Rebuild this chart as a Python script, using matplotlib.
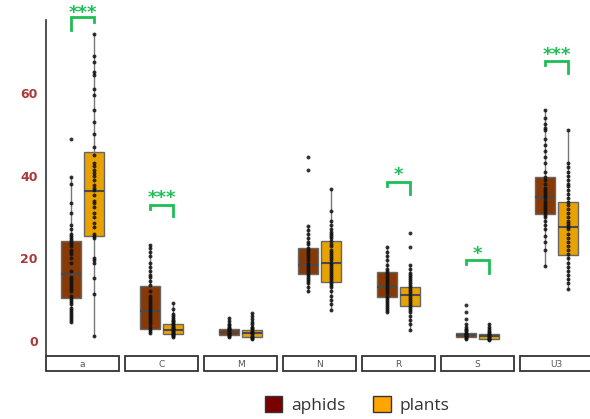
import matplotlib
matplotlib.use("Agg")
import matplotlib.pyplot as plt
from matplotlib.patches import Patch, Rectangle

# facets
facets = ['a', 'C', 'M', 'N', 'R', 'S', 'U3']

# box stats per facet (q1, median, q3, whisker low, whisker high)
aph_q1 = [10.4, 2.9, 1.45, 16.2, 10.6, 0.9, 30.8]
aph_med = [16.2, 7.3, 2.2, 18.5, 13.1, 1.5, 34.9]
aph_q3 = [24.3, 13.4, 2.9, 22.4, 16.6, 2.0, 39.7]
aph_lo = [4.6, 2.0, 0.9, 11.9, 6.9, 0.6, 18.2]
aph_hi = [39.7, 23.2, 5.5, 27.8, 22.8, 4.1, 55.9]

pla_q1 = [25.4, 1.6, 0.9, 14.4, 8.5, 0.6, 20.7]
pla_med = [36.3, 2.7, 1.85, 18.9, 11.1, 1.1, 27.6]
pla_q3 = [45.8, 4.0, 2.66, 24.3, 13.0, 1.6, 33.7]
pla_lo = [1.2, 1.0, 0.4, 7.5, 2.7, 0.3, 12.5]
pla_hi = [74.2, 9.3, 6.7, 36.8, 18.4, 4.0, 51.1]

# individual points
aph_pts = [
    [49, 39.7, 38, 33.5, 31, 28, 27, 26, 25.5, 25, 24.5, 24, 23.5, 23, 22, 21.5, 21, 20, 19, 17,
     15.5, 15, 14.5, 14, 13.5, 13, 12.5, 12, 11, 10.5, 10, 9.5, 9, 8, 7.5, 7, 6.5, 6, 5.5, 5, 4.6],
    [23.2, 22.5, 21.5, 20.5, 19, 18, 17, 16, 15.5, 14.5, 13.5, 12, 11, 10.5, 10, 9.5, 9, 8.5, 8,
     7.5, 7, 6.5, 6, 5.5, 5, 4.5, 4, 3.5, 3, 2.5, 2],
    [5.5, 4.8, 4.2, 3.8, 3.5, 3.2, 3, 2.8, 2.6, 2.4, 2.2, 2, 1.8, 1.6, 1.4, 1.2, 1.0],
    [44.5, 41.4, 27.8, 26.8, 26, 25, 24, 23.5, 22.5, 22, 21.5, 21, 20.5, 20, 19.5, 19, 18.5, 18,
     17.5, 17, 16.5, 16, 15.5, 15, 14.5, 14, 13, 12],
    [22.8, 21.5, 20.5, 19.5, 18.5, 17.5, 17, 16.5, 16, 15.5, 15, 14.5, 14, 13.5, 13, 12.5, 12,
     11.5, 11, 10.5, 10, 9.5, 9, 8.5, 8, 7.5, 7],
    [8.7, 7.1, 5.3, 4.1, 3.5, 3, 2.6, 2.3, 2, 1.8, 1.6, 1.4, 1.2, 1.0, 0.8, 0.6],
    [55.9, 54, 52.5, 51.5, 51, 49, 47.5, 46, 44.5, 43, 41, 39.7, 39, 38, 37, 36.5, 36, 35.5, 35,
     34.5, 34, 33.5, 33, 32.5, 32, 31.5, 31, 30.5, 30, 29, 28, 27, 25.5, 24, 22, 18.2],
]
pla_pts = [
    [74.2, 69, 67.5, 65, 64.5, 61, 59.5, 56, 53, 50, 47, 45, 43, 42.4, 41.4, 40.7, 40, 39, 37.8,
     37, 36.5, 35.3, 34, 33.4, 32.5, 31, 30, 28.6, 27.6, 26, 25.3, 25, 20, 19.5, 19, 15.3, 11.4, 1.2],
    [9.3, 7.8, 6.5, 6, 5.5, 5, 4.8, 4.5, 4.2, 4, 3.7, 3.5, 3.2, 3, 2.8, 2.6, 2.4, 2.2, 2, 1.8,
     1.6, 1.4, 1.2, 1.0],
    [6.7, 6.0, 5.3, 4.6, 4.0, 3.5, 3.1, 2.8, 2.5, 2.2, 1.9, 1.6, 1.3, 1.0, 0.7, 0.4],
    [36.8, 31.5, 29, 28, 27, 26.5, 26, 25.5, 25, 24.3, 23.5, 23, 22, 21.5, 21, 20.5, 20, 19.5, 19,
     18.5, 18, 17.5, 17, 16.5, 16, 15.5, 15, 14.5, 14, 13.5, 13, 12, 11, 10, 9, 7.5],
    [26.1, 22.8, 18.4, 17.5, 16.5, 16, 15.5, 15, 14.5, 14, 13.5, 13, 12.5, 12, 11.5, 11, 10.5, 10,
     9.5, 9, 8.5, 8, 7.5, 7, 6, 5, 4, 2.7],
    [4.0, 3.5, 3.0, 2.5, 2.1, 1.8, 1.6, 1.4, 1.2, 1.0, 0.8, 0.6, 0.4, 0.3],
    [51.1, 43, 42, 41, 40, 39, 38, 37.5, 36.5, 35.5, 34.5, 33.7, 33, 32, 31, 30, 29, 28.5, 28, 27.5,
     27, 26, 25, 24, 23, 22, 21, 20, 19, 18, 17, 16, 15, 14, 12.5],
]

# significance brackets: facet index, label, top, left leg bottom, right leg bottom, label baseline
sig_facet = [0, 1, 4, 5, 6]
sig_label = ['***', '***', '*', '*', '***']
sig_top = [78.4, 32.9, 38.6, 19.6, 67.8]
sig_left = [75.3, 32.0, 37.6, 18.6, 66.7]
sig_right = [77.2, 30.3, 35.6, 16.5, 64.8]
sig_text = [78.3, 33.5, 38.9, 19.9, 68.1]

yticks = [0, 20, 40, 60]

aph_col = '#873A05'
pla_col = '#E8A202'
green = '#1DBE55'
off = 0.146
bw = 0.253

W, H = 590, 419
fig = plt.figure(figsize=(W / 100, H / 100), dpi=100)
ax = fig.add_axes([46 / W, (H - 355) / H, (W - 46) / W, 335 / H])
sax = fig.add_axes([46 / W, (H - 372) / H, (W - 46) / W, 17 / H])

xlim = (-0.462, 6.424)


def stats(q1, med, q3, lo, hi):
    return [dict(q1=a, med=b, q3=c, whislo=d, whishi=e, fliers=[])
            for a, b, c, d, e in zip(q1, med, q3, lo, hi)]


pos = list(range(len(facets)))
for st, col, sh in [(stats(aph_q1, aph_med, aph_q3, aph_lo, aph_hi), aph_col, -off),
                    (stats(pla_q1, pla_med, pla_q3, pla_lo, pla_hi), pla_col, off)]:
    ax.bxp(st, positions=[p + sh for p in pos], widths=bw, patch_artist=True,
           showcaps=False, showfliers=False,
           boxprops=dict(facecolor=col, edgecolor='#666666', linewidth=1.0),
           whiskerprops=dict(color='#777777', linewidth=1.0),
           medianprops=dict(color='#4a4a4a', linewidth=1.5))

for i in pos:
    ax.scatter([i - off] * len(aph_pts[i]), aph_pts[i], s=8, color='#111111', alpha=0.85,
               zorder=5, linewidths=0)
    ax.scatter([i + off] * len(pla_pts[i]), pla_pts[i], s=8, color='#111111', alpha=0.85,
               zorder=5, linewidths=0)

for f, lab, t, l, r, ty in zip(sig_facet, sig_label, sig_top, sig_left, sig_right, sig_text):
    ax.plot([f - off, f - off, f + off, f + off], [l, t, t, r], color=green, lw=2,
            clip_on=False, solid_joinstyle='miter')
    ax.text(f, ty, lab, color=green, ha='center', va='baseline', fontsize=13,
            fontweight='bold', clip_on=False)

ax.set_xlim(*xlim)
ax.set_ylim(-3.39, 77.7)
ax.set_xticks([])
ax.set_yticks(yticks)
ax.set_yticklabels([str(v) for v in yticks], color='#A83A3A', fontweight='bold', fontsize=9)
ax.tick_params(axis='y', length=0, pad=6)
for s in ['top', 'right', 'bottom']:
    ax.spines[s].set_visible(False)
ax.spines['left'].set_color('#333333')
ax.spines['left'].set_linewidth(1.2)
ax.patch.set_alpha(0)

# facet strips
sax.set_xlim(*xlim)
sax.set_ylim(0, 1)
sax.axis('off')
for i, lab in enumerate(facets):
    sax.add_patch(Rectangle((i - 0.462, 0.04), 0.924, 0.92, facecolor='white',
                            edgecolor='#333333', linewidth=1.3, clip_on=False))
    sax.text(i, 0.45, lab, ha='center', va='center', fontsize=6.5, color='#555555')

handles = [Patch(facecolor='#7B0000', edgecolor='#333333', label='aphids'),
           Patch(facecolor='#FFA500', edgecolor='#333333', label='plants')]
fig.legend(handles=handles, loc='center', bbox_to_anchor=(357 / W, (H - 405) / H), ncol=2,
           frameon=False, handlelength=1.0, handleheight=1.0, handletextpad=0.5,
           columnspacing=1.6, prop={'family': 'Open Sans', 'size': 12.5},
           labelcolor='#333333')

fig.savefig('out.png', dpi=100)
